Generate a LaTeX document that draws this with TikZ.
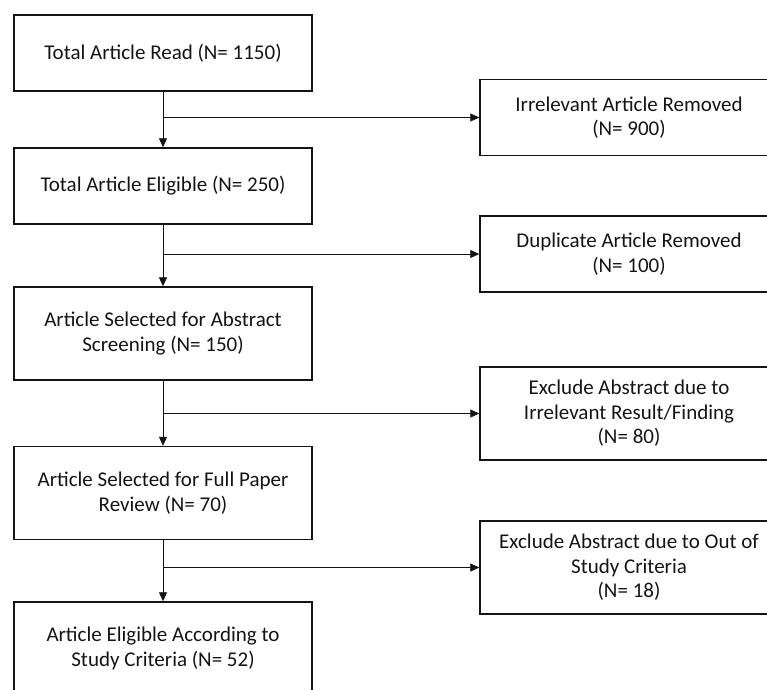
\documentclass[tikz,border=0pt]{standalone}
\usepackage{fontspec}
\setmainfont{Carlito}
\usetikzlibrary{arrows.meta}
\definecolor{FlowText}{RGB}{20,20,20}
\definecolor{FlowEdge}{RGB}{20,20,20}

\begin{document}
\begin{tikzpicture}[x=1pt,y=-1pt,font=\fontsize{21}{24.5}\selectfont,
  stagebox/.style={draw=FlowEdge,line width=1.4pt,text=FlowText,align=center,
    minimum width=298pt,inner sep=0pt},
  shortbox/.style={stagebox,minimum height=76pt},
  tallbox/.style={stagebox,minimum height=93pt},
  flowline/.style={draw=FlowEdge,line width=0.8pt,
    -{Triangle[length=9pt,width=8pt]}}]
  \clip (0,0) rectangle (767,689);

  \node[shortbox] (read) at (163,53) {Total Article Read (N= 1150)};
  \node[shortbox] (eligible) at (163,186) {Total Article Eligible (N= 250)};
  \node[tallbox] (abstract) at (163,333.5)
    {Article Selected for Abstract\\Screening (N= 150)};
  \node[tallbox] (fullpaper) at (163,493)
    {Article Selected for Full Paper\\Review (N= 70)};
  \node[tallbox] (included) at (163,648.5)
    {Article Eligible According to\\Study Criteria (N= 52)};

  \node[shortbox] (irrelevant) at (629,117.5)
    {Irrelevant Article Removed\\(N= 900)};
  \node[shortbox] (duplicate) at (629,254)
    {Duplicate Article Removed\\(N= 100)};
  \node[tallbox] (badresult) at (629,413.5)
    {Exclude Abstract due to\\Irrelevant Result/Finding\\(N= 80)};
  \node[tallbox] (outcriteria) at (629,567.5)
    {Exclude Abstract due to Out of\\Study Criteria\\(N= 18)};

  % each stage feeds the next one and sheds its removed articles to the right
  \foreach \from/\to/\out in {read/eligible/irrelevant,
      eligible/abstract/duplicate, abstract/fullpaper/badresult,
      fullpaper/included/outcriteria} {
    \draw[flowline] (\from) -- (\to);
    \coordinate (split-\out) at (\from.south |- \out.west);
    \draw[flowline] (split-\out) -- (\out.west);
  }
\end{tikzpicture}
\end{document}
